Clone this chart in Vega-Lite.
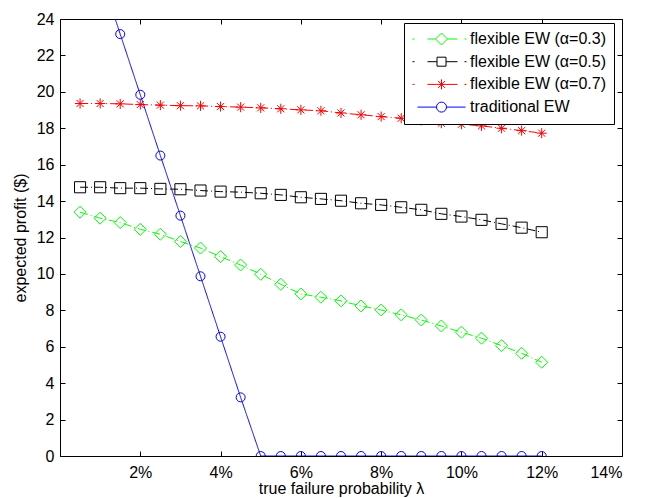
{
  "$schema": "https://vega.github.io/schema/vega-lite/v6.json",
  "width": 562,
  "height": 437,
  "autosize": {"type": "none"},
  "padding": {"left": 60, "top": 19, "right": 28, "bottom": 42},
  "background": "white",
  "config": {
    "view": {"stroke": "#000000", "strokeWidth": 1},
    "font": "Liberation Sans",
    "axis": {
      "labelFont": "Liberation Sans", "labelFontSize": 16, "labelColor": "#000000",
      "titleFont": "Liberation Sans", "titleFontSize": 16, "titleFontWeight": "normal", "titleColor": "#000000",
      "tickColor": "#000000", "tickSize": -5, "tickWidth": 1, "grid": false, "domain": false
    },
    "legend": {
      "labelFont": "Liberation Sans", "labelFontSize": 16, "labelColor": "#000000"
    }
  },
  "data": {
    "values": [
      {"s": "flexible EW (α=0.3)", "x": 0.5, "y": 13.39}, {"s": "flexible EW (α=0.3)", "x": 1, "y": 13.06}, {"s": "flexible EW (α=0.3)", "x": 1.5, "y": 12.82}, {"s": "flexible EW (α=0.3)", "x": 2, "y": 12.45},
      {"s": "flexible EW (α=0.3)", "x": 2.5, "y": 12.18}, {"s": "flexible EW (α=0.3)", "x": 3, "y": 11.78}, {"s": "flexible EW (α=0.3)", "x": 3.5, "y": 11.42}, {"s": "flexible EW (α=0.3)", "x": 4, "y": 10.95},
      {"s": "flexible EW (α=0.3)", "x": 4.5, "y": 10.49}, {"s": "flexible EW (α=0.3)", "x": 5, "y": 9.98}, {"s": "flexible EW (α=0.3)", "x": 5.5, "y": 9.43}, {"s": "flexible EW (α=0.3)", "x": 6, "y": 8.9},
      {"s": "flexible EW (α=0.3)", "x": 6.5, "y": 8.72}, {"s": "flexible EW (α=0.3)", "x": 7, "y": 8.52}, {"s": "flexible EW (α=0.3)", "x": 7.5, "y": 8.24}, {"s": "flexible EW (α=0.3)", "x": 8, "y": 8.02},
      {"s": "flexible EW (α=0.3)", "x": 8.5, "y": 7.75}, {"s": "flexible EW (α=0.3)", "x": 9, "y": 7.47}, {"s": "flexible EW (α=0.3)", "x": 9.5, "y": 7.14}, {"s": "flexible EW (α=0.3)", "x": 10, "y": 6.8},
      {"s": "flexible EW (α=0.3)", "x": 10.5, "y": 6.47}, {"s": "flexible EW (α=0.3)", "x": 11, "y": 6.06}, {"s": "flexible EW (α=0.3)", "x": 11.5, "y": 5.64}, {"s": "flexible EW (α=0.3)", "x": 12, "y": 5.15},

      {"s": "flexible EW (α=0.5)", "x": 0.5, "y": 14.76}, {"s": "flexible EW (α=0.5)", "x": 1, "y": 14.76}, {"s": "flexible EW (α=0.5)", "x": 1.5, "y": 14.71}, {"s": "flexible EW (α=0.5)", "x": 2, "y": 14.71},
      {"s": "flexible EW (α=0.5)", "x": 2.5, "y": 14.67}, {"s": "flexible EW (α=0.5)", "x": 3, "y": 14.65}, {"s": "flexible EW (α=0.5)", "x": 3.5, "y": 14.58}, {"s": "flexible EW (α=0.5)", "x": 4, "y": 14.52},
      {"s": "flexible EW (α=0.5)", "x": 4.5, "y": 14.49}, {"s": "flexible EW (α=0.5)", "x": 5, "y": 14.43}, {"s": "flexible EW (α=0.5)", "x": 5.5, "y": 14.34}, {"s": "flexible EW (α=0.5)", "x": 6, "y": 14.21},
      {"s": "flexible EW (α=0.5)", "x": 6.5, "y": 14.12}, {"s": "flexible EW (α=0.5)", "x": 7, "y": 14.02}, {"s": "flexible EW (α=0.5)", "x": 7.5, "y": 13.88}, {"s": "flexible EW (α=0.5)", "x": 8, "y": 13.79},
      {"s": "flexible EW (α=0.5)", "x": 8.5, "y": 13.66}, {"s": "flexible EW (α=0.5)", "x": 9, "y": 13.52}, {"s": "flexible EW (α=0.5)", "x": 9.5, "y": 13.3}, {"s": "flexible EW (α=0.5)", "x": 10, "y": 13.15},
      {"s": "flexible EW (α=0.5)", "x": 10.5, "y": 12.97}, {"s": "flexible EW (α=0.5)", "x": 11, "y": 12.75}, {"s": "flexible EW (α=0.5)", "x": 11.5, "y": 12.54}, {"s": "flexible EW (α=0.5)", "x": 12, "y": 12.29},

      {"s": "flexible EW (α=0.7)", "x": 0.5, "y": 19.36}, {"s": "flexible EW (α=0.7)", "x": 1, "y": 19.36}, {"s": "flexible EW (α=0.7)", "x": 1.5, "y": 19.34}, {"s": "flexible EW (α=0.7)", "x": 2, "y": 19.3},
      {"s": "flexible EW (α=0.7)", "x": 2.5, "y": 19.27}, {"s": "flexible EW (α=0.7)", "x": 3, "y": 19.24}, {"s": "flexible EW (α=0.7)", "x": 3.5, "y": 19.23}, {"s": "flexible EW (α=0.7)", "x": 4, "y": 19.19},
      {"s": "flexible EW (α=0.7)", "x": 4.5, "y": 19.16}, {"s": "flexible EW (α=0.7)", "x": 5, "y": 19.12}, {"s": "flexible EW (α=0.7)", "x": 5.5, "y": 19.07}, {"s": "flexible EW (α=0.7)", "x": 6, "y": 19.01},
      {"s": "flexible EW (α=0.7)", "x": 6.5, "y": 18.96}, {"s": "flexible EW (α=0.7)", "x": 7, "y": 18.84}, {"s": "flexible EW (α=0.7)", "x": 7.5, "y": 18.74}, {"s": "flexible EW (α=0.7)", "x": 8, "y": 18.64},
      {"s": "flexible EW (α=0.7)", "x": 8.5, "y": 18.55}, {"s": "flexible EW (α=0.7)", "x": 9, "y": 18.43}, {"s": "flexible EW (α=0.7)", "x": 9.5, "y": 18.28}, {"s": "flexible EW (α=0.7)", "x": 10, "y": 18.22},
      {"s": "flexible EW (α=0.7)", "x": 10.5, "y": 18.13}, {"s": "flexible EW (α=0.7)", "x": 11, "y": 18.0}, {"s": "flexible EW (α=0.7)", "x": 11.5, "y": 17.87}, {"s": "flexible EW (α=0.7)", "x": 12, "y": 17.73},

      {"s": "traditional EW", "x": 0.5, "y": 29.8}, {"s": "traditional EW", "x": 1, "y": 26.5}, {"s": "traditional EW", "x": 1.5, "y": 23.17}, {"s": "traditional EW", "x": 2, "y": 19.84},
      {"s": "traditional EW", "x": 2.5, "y": 16.5}, {"s": "traditional EW", "x": 3, "y": 13.2}, {"s": "traditional EW", "x": 3.5, "y": 9.87}, {"s": "traditional EW", "x": 4, "y": 6.55},
      {"s": "traditional EW", "x": 4.5, "y": 3.22}, {"s": "traditional EW", "x": 5, "y": 0}, {"s": "traditional EW", "x": 5.5, "y": 0}, {"s": "traditional EW", "x": 6, "y": 0},
      {"s": "traditional EW", "x": 6.5, "y": 0}, {"s": "traditional EW", "x": 7, "y": 0}, {"s": "traditional EW", "x": 7.5, "y": 0}, {"s": "traditional EW", "x": 8, "y": 0},
      {"s": "traditional EW", "x": 8.5, "y": 0}, {"s": "traditional EW", "x": 9, "y": 0}, {"s": "traditional EW", "x": 9.5, "y": 0}, {"s": "traditional EW", "x": 10, "y": 0},
      {"s": "traditional EW", "x": 10.5, "y": 0}, {"s": "traditional EW", "x": 11, "y": 0}, {"s": "traditional EW", "x": 11.5, "y": 0}, {"s": "traditional EW", "x": 12, "y": 0}
    ]
  },
  "layer": [
    {
      "mark": {"type": "line", "clip": true, "strokeWidth": 1},
      "encoding": {
        "x": {"field": "x", "type": "quantitative", "scale": {"domain": [0, 14], "nice": false},
              "axis": {"orient": "bottom", "values": [0, 2, 4, 6, 8, 10, 12, 14], "labelExpr": "datum.value == 0 ? '' : datum.value + '%'", "labelPadding": 13, "title": "true failure probability λ", "titlePadding": 0}},
        "y": {"field": "y", "type": "quantitative", "scale": {"domain": [0, 24], "nice": false},
              "axis": {"orient": "left", "values": [0, 2, 4, 6, 8, 10, 12, 14, 16, 18, 20, 22, 24], "labelPadding": 11, "title": "expected profit ($)", "titlePadding": 8}},
        "color": {"field": "s", "type": "nominal", "legend": null,
                  "scale": {"domain": ["flexible EW (α=0.3)", "flexible EW (α=0.5)", "flexible EW (α=0.7)", "traditional EW"], "range": ["#00ff00", "#000000", "#ff0000", "#0000ff"]}},
        "strokeDash": {"field": "s", "type": "nominal", "legend": null,
                       "scale": {"domain": ["flexible EW (α=0.3)", "flexible EW (α=0.5)", "flexible EW (α=0.7)", "traditional EW"], "range": [[8, 3, 1, 3], [8, 3, 1, 3], [8, 3, 1, 3], [1, 0]]}}
      }
    },
    {
      "mark": {"type": "point", "clip": true, "filled": false, "strokeWidth": 1, "opacity": 1},
      "encoding": {
        "x": {"field": "x", "type": "quantitative", "axis": {"orient": "top", "values": [0, 2, 4, 6, 8, 10, 12, 14], "labels": false, "title": null}},
        "y": {"field": "y", "type": "quantitative", "axis": {"orient": "right", "values": [0, 2, 4, 6, 8, 10, 12, 14, 16, 18, 20, 22, 24], "labels": false, "title": null}},
        "color": {"field": "s", "type": "nominal", "legend": null,
                  "scale": {"domain": ["flexible EW (α=0.3)", "flexible EW (α=0.5)", "flexible EW (α=0.7)", "traditional EW"], "range": ["#00ff00", "#000000", "#ff0000", "#0000ff"]}},
        "shape": {"field": "s", "type": "nominal", "legend": null,
                  "scale": {"domain": ["flexible EW (α=0.3)", "flexible EW (α=0.5)", "flexible EW (α=0.7)", "traditional EW"], "range": ["diamond", "square", "M0,-1V1M-1,0H1M-0.7,-0.7L0.7,0.7M-0.7,0.7L0.7,-0.7", "circle"]}},
        "size": {"field": "s", "type": "nominal", "legend": null,
                 "scale": {"domain": ["flexible EW (α=0.3)", "flexible EW (α=0.5)", "flexible EW (α=0.7)", "traditional EW"], "range": [144, 81, 100, 100]}}
      }
    },
    {
      "transform": [{"filter": "datum.x < 0"}],
      "mark": {"type": "point", "filled": false, "strokeWidth": 1, "opacity": 1, "size": 100},
      "encoding": {
        "x": {"field": "x", "type": "quantitative", "axis": null},
        "y": {"field": "y", "type": "quantitative", "axis": null},
        "color": {"field": "s", "type": "nominal",
                  "scale": {"domain": ["flexible EW (α=0.3)", "flexible EW (α=0.5)", "flexible EW (α=0.7)", "traditional EW"], "range": ["#00ff00", "#000000", "#ff0000", "#0000ff"]},
                  "legend": {
                    "title": null, "orient": "none", "legendX": 344, "legendY": 4,
                    "strokeColor": "#000000", "fillColor": "#ffffff", "padding": 8, "cornerRadius": 0,
                    "rowPadding": 6.7, "labelOffset": 42, "symbolSize": 100, "symbolStrokeWidth": 1
                  }},
        "shape": {"field": "s", "type": "nominal",
                  "scale": {"domain": ["flexible EW (α=0.3)", "flexible EW (α=0.5)", "flexible EW (α=0.7)", "traditional EW"],
                            "range": [
                              "M-1.5,0H-1.1M1.5,0H3.1M3.1,0L4.3,-1.2L5.5,0L4.3,1.2ZM5.5,0H7.5M8.9,0H9.3",
                              "M-1.5,0H-1.1M1.5,0H3.4M3.4,-0.9H5.2V0.9H3.4ZM5.2,0H7.5M8.9,0H9.3",
                              "M-1.5,0H-1.1M1.5,0H3.3M4.3,-1V1M3.3,0H5.3M3.6,-0.7L5,0.7M3.6,0.7L5,-0.7M5.3,0H7.5M8.9,0H9.3",
                              "M-0.5,0H3.3M5.3,0A1,1,0,1,1,3.3,0A1,1,0,1,1,5.3,0M5.3,0H9.1"
                            ]},
                  "legend": {
                    "title": null, "orient": "none", "legendX": 344, "legendY": 4,
                    "strokeColor": "#000000", "fillColor": "#ffffff", "padding": 8, "cornerRadius": 0,
                    "rowPadding": 6.7, "labelOffset": 42, "symbolSize": 100, "symbolStrokeWidth": 1
                  }}
      }
    }
  ],
  "resolve": {
    "axis": {"x": "independent", "y": "independent"},
    "scale": {"color": "independent", "shape": "independent"},
    "legend": {"color": "independent", "shape": "independent"}
  }
}
